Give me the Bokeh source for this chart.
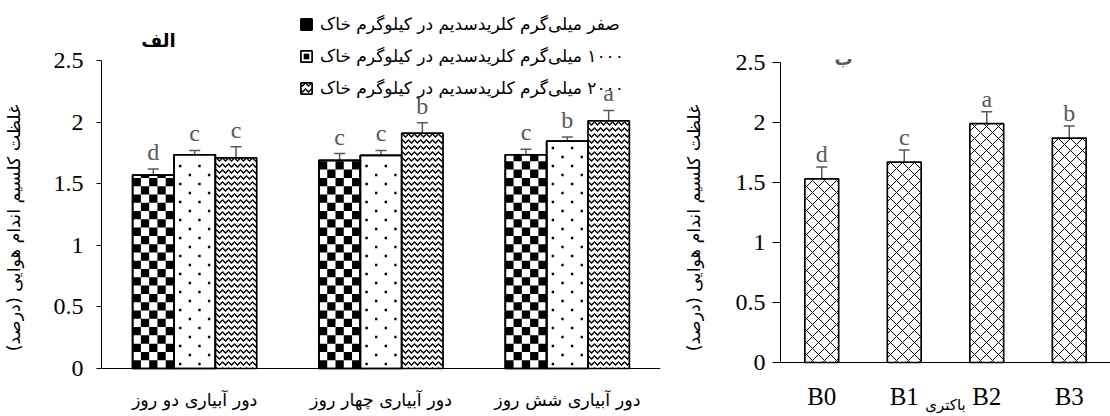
from bokeh.plotting import figure
from bokeh.models import (FactorRange, Range1d, Whisker, ColumnDataSource, Legend,
                          LegendItem, Label, TeeHead, FixedTicker)
from bokeh.layouts import row
from bokeh.embed import file_html
from bokeh.resources import INLINE
from bokeh.core.properties import value

# ---------------- data ----------------
groups = ["دور آبیاری دو روز", "دور آبیاری چهار روز", "دور آبیاری شش روز"]
series_names = ["صفر میلی‌گرم کلریدسدیم در کیلوگرم خاک",
                "۱۰۰۰ میلی‌گرم کلریدسدیم در کیلوگرم خاک",
                "۲۰۰۰ میلی‌گرم کلریدسدیم در کیلوگرم خاک"]
salt0 = [1.57, 1.69, 1.735]
salt1000 = [1.735, 1.73, 1.845]
salt2000 = [1.71, 1.91, 2.01]
err0 = [0.05, 0.055, 0.045]
err1000 = [0.035, 0.04, 0.035]
err2000 = [0.09, 0.085, 0.085]
let0 = ["d", "c", "c"]
let1000 = ["c", "c", "b"]
let2000 = ["c", "b", "a"]

bacteria = ["B0", "B1", "B2", "B3"]
bact_vals = [1.53, 1.67, 1.99, 1.87]
bact_err = [0.1, 0.1, 0.1, 0.1]
bact_letters = ["d", "c", "a", "b"]

y_ticks = [0, 0.5, 1, 1.5, 2, 2.5]
y_tick_labels = ["0", "0.5", "1", "1.5", "2", "2.5"]

title_a = "الف"
title_b = "ب"
y_label = "غلظت کلسیم اندام هوایی (درصد)"
x_label_b = "باکتری"

# ---------------- styles / layout ----------------
AR_FONT = "DejaVu Sans"
NUM_FONT = "Liberation Serif"
GRAY = "#595959"
H = 416
RLM = "\u200f"   # right-to-left mark so that leading digits stay on the right
# left panel: frame spans y 2..414 px, value 0 at 368 px, 2.5 at 60 px
L_UNIT = (368 - 60) / 2.5
L_Y = (-(H - 2 - 368) / L_UNIT, (368 - 2) / L_UNIT)
# right panel: value 0 at 362 px, 2.5 at 62 px
R_UNIT = (362 - 62) / 2.5
R_Y = (-(H - 2 - 362) / R_UNIT, (362 - 2) / R_UNIT)
# non-breaking spaces after the axis title move it down along the axis
Y_LABEL_PAD = "\u00a0" * 7


def style_axes(p, tick_out, tick_standoff, label_standoff):
    p.xgrid.visible = False
    p.ygrid.visible = False
    p.outline_line_color = None
    p.yaxis.bounds = (y_ticks[0], y_ticks[-1])
    p.yaxis.ticker = FixedTicker(ticks=y_ticks)
    p.yaxis.major_label_overrides = dict(zip(y_ticks, y_tick_labels))
    p.yaxis.minor_tick_line_color = None
    p.yaxis.major_tick_out = tick_out
    p.yaxis.major_tick_in = 0
    p.yaxis.major_label_standoff = tick_standoff
    p.yaxis.major_label_text_font = NUM_FONT
    p.yaxis.major_label_text_font_size = "24px"
    p.yaxis.major_label_text_color = "black"
    p.yaxis.axis_line_color = "black"
    p.yaxis.major_tick_line_color = "black"
    p.yaxis.axis_label = y_label + Y_LABEL_PAD
    p.yaxis.axis_label_standoff = label_standoff
    p.yaxis.axis_label_text_font = AR_FONT
    p.yaxis.axis_label_text_font_size = "17.5px"
    p.yaxis.axis_label_text_font_style = "normal"
    p.yaxis.axis_label_text_color = "black"
    p.xaxis.fixed_location = 0
    p.xaxis.axis_line_color = "black"
    p.xaxis.major_tick_line_color = None
    p.xaxis.minor_tick_line_color = None
    p.xaxis.major_tick_out = 0
    p.xaxis.major_tick_in = 0
    p.xaxis.major_label_text_color = "black"


def tee():
    return TeeHead(size=11, line_color=GRAY, line_width=1.5)


# ---------------- left chart ----------------
p1 = figure(width=680, height=H, x_range=Range1d(0, len(groups)), y_range=Range1d(*L_Y),
            output_backend="svg", toolbar_location=None,
            min_border_left=100, min_border_right=20, min_border_top=2, min_border_bottom=2)
style_axes(p1, 5, 13, 27)
group_x = [i + 0.5 for i in range(len(groups))]
p1.xaxis.ticker = FixedTicker(ticks=group_x)
p1.xaxis.major_label_overrides = dict(zip(group_x, groups))
p1.xaxis.major_label_text_font = AR_FONT
p1.xaxis.major_label_text_font_size = "17.5px"
p1.xaxis.major_label_standoff = 21

bw = 0.222
offsets = [-bw, 0.0, bw]
series_vals = [salt0, salt1000, salt2000]
series_errs = [err0, err1000, err2000]
series_lets = [let0, let1000, let2000]
X_UNIT = 560 / len(groups)          # px per x unit
srcs = []
bars = []
for i in range(3):
    xs = [g + offsets[i] for g in group_x]
    src = ColumnDataSource(dict(x=xs, v=series_vals[i],
                                up=[a + b for a, b in zip(series_vals[i], series_errs[i])],
                                lo=[a - b for a, b in zip(series_vals[i], series_errs[i])],
                                let=series_lets[i]))
    kw = {}
    if i == 2:
        kw = dict(hatch_pattern="horizontal_wave", hatch_scale=6, hatch_weight=1.4,
                  hatch_color="black")
    r = p1.vbar(x="x", top="v", width=bw, source=src, fill_color="white", line_color="black",
                line_width=1.7, **kw)
    bars.append(r)
    srcs.append(src)

# checkerboard fill of the first series, built from its bar values
ncol = 5
cell_w = bw / ncol
cell_h = cell_w * X_UNIT / L_UNIT
cl, cr, cb, ct = [], [], [], []
for g, v in zip(group_x, salt0):
    left = g + offsets[0] - bw / 2
    for rr in range(int(v / cell_h) + 1):
        b = rr * cell_h
        if b >= v:
            continue
        for cc in range(ncol):
            if (rr + cc) % 2 == 0:
                cl.append(left + cc * cell_w)
                cr.append(left + (cc + 1) * cell_w)
                cb.append(b)
                ct.append(min(v, b + cell_h))
chk = p1.quad(left=cl, right=cr, bottom=cb, top=ct, fill_color="black", line_color=None)

# staggered dot fill of the second series, built from its bar values
dcols = 4
dx = bw / 4.3
dy = 9 / L_UNIT
px, py = [], []
for g, v in zip(group_x, salt1000):
    c = g + offsets[1]
    for rr in range(int(v / dy)):
        y = (rr + 0.5) * dy
        if y > v - dy * 0.4:
            continue
        for k in range(dcols):
            if (rr + k) % 2 == 0:
                px.append(c + (k - 1.5) * dx)
                py.append(y)
dots = p1.scatter(x=px, y=py, marker="square", size=2.4, fill_color="black", line_color=None)

# outline on top of the manual fills
for i in range(2):
    p1.vbar(x="x", top="v", width=bw, source=srcs[i], fill_color=None, line_color="black",
            line_width=1.7)

items = []
extra = [[chk], [dots], []]
for i in range(3):
    items.append(LegendItem(label=RLM + series_names[i], renderers=[bars[i]] + extra[i]))
    p1.add_layout(Whisker(base="x", upper="up", lower="lo", source=srcs[i], line_color=GRAY,
                          line_width=1.5, upper_head=tee(), lower_head=tee()))
    p1.text(x="x", y="up", text="let", source=srcs[i], text_font=value(NUM_FONT),
            text_font_size="24px", text_color=GRAY, text_align="center",
            text_baseline="alphabetic", y_offset=-17)

legend = Legend(items=items, location=(198, 316), orientation="vertical",
                label_text_font=AR_FONT, label_text_font_size="17px", label_text_color="black",
                glyph_width=14, glyph_height=14, label_standoff=7, spacing=12,
                padding=0, margin=0, background_fill_alpha=0, border_line_alpha=0,
                label_height=20)
p1.add_layout(legend)
p1.add_layout(Label(x=57, y=374, x_units="screen", y_units="screen", text=title_a,
                    text_font=AR_FONT, text_font_size="18px", text_font_style="bold",
                    text_align="center", text_baseline="middle", text_color="black"))

# ---------------- right chart ----------------
p2 = figure(width=430, height=H, x_range=FactorRange(factors=bacteria, range_padding=0),
            y_range=Range1d(*R_Y), output_backend="svg", toolbar_location=None,
            min_border_left=97, min_border_right=0, min_border_top=2, min_border_bottom=2)
style_axes(p2, 8, 7, 29)
p2.xaxis.major_label_text_font = NUM_FONT
p2.xaxis.major_label_text_font_size = "25px"
p2.xaxis.major_label_standoff = 20
p2.xaxis.axis_label = x_label_b
p2.xaxis.axis_label_text_font = AR_FONT
p2.xaxis.axis_label_text_font_size = "15px"
p2.xaxis.axis_label_text_font_style = "normal"
p2.xaxis.axis_label_text_color = "black"
p2.xaxis.axis_label_standoff = -17

src2 = ColumnDataSource(dict(b=bacteria, v=bact_vals,
                             up=[a + b for a, b in zip(bact_vals, bact_err)],
                             lo=[a - b for a, b in zip(bact_vals, bact_err)],
                             let=bact_letters))
p2.vbar(x="b", top="v", width=0.41, source=src2, fill_color="white", line_color="black",
        line_width=1.7, hatch_pattern="diagonal_cross", hatch_scale=12, hatch_weight=1,
        hatch_color="black")
p2.add_layout(Whisker(base="b", upper="up", lower="lo", source=src2, line_color=GRAY,
                      line_width=1.5, upper_head=tee(), lower_head=tee()))
p2.text(x="b", y="up", text="let", source=src2, text_font=value(NUM_FONT), text_font_size="24px",
        text_color=GRAY, text_align="center", text_baseline="alphabetic", y_offset=-13)
p2.add_layout(Label(x=63, y=356, x_units="screen", y_units="screen", text=title_b,
                    text_font=AR_FONT, text_font_size="18px", text_font_style="bold",
                    text_align="center", text_baseline="middle", text_color=GRAY))

layout = row(p1, p2, spacing=0)
open("out.html", "w").write(file_html(layout, INLINE))
